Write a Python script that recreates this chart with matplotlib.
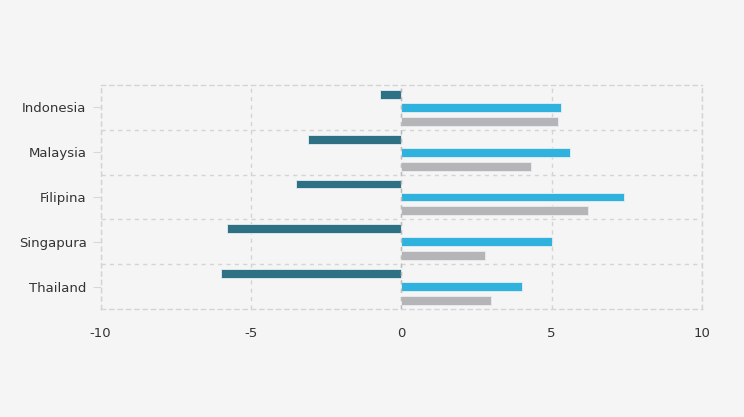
import numpy as np
import matplotlib.pyplot as plt

plt.rcParams['axes.unicode_minus'] = False

countries = ['Indonesia', 'Malaysia', 'Filipina', 'Singapura', 'Thailand']
series_a = [-0.7, -3.1, -3.5, -5.8, -6.0]   # teal
series_b = [5.3, 5.6, 7.4, 5.0, 4.0]        # blue
series_c = [5.2, 4.3, 6.2, 2.8, 3.0]        # gray

colors = ['#2e7185', '#30b2df', '#b5b5b7']
bg = '#f5f5f5'
grid_col = '#d4d4d4'

fig = plt.figure(figsize=(7.44, 4.17), dpi=100, facecolor=bg)
ax = fig.add_axes([100.5 / 744, 1 - 309 / 417, 601.5 / 744, 224 / 417])
ax.set_facecolor(bg)

y = np.arange(len(countries))
h = 0.2
offsets = [-0.29, 0.0, 0.31]
for vals, off, c in zip([series_a, series_b, series_c], offsets, colors):
    ax.barh(y + off, vals, height=h, color=c, edgecolor='#e6eef2', linewidth=0.6, zorder=3)

ax.set_xlim(-10, 10)
ax.set_ylim(len(countries) - 0.5, -0.5)
ax.set_xticks([-10, -5, 0, 5, 10])
ax.set_yticks(y)
ax.set_yticklabels(countries)
ax.set_yticks(np.arange(0.5, len(countries) - 0.5, 1), minor=True)

ax.grid(True, axis='x', which='major', linestyle=(0, (3, 3)), color=grid_col, linewidth=1, zorder=0)
ax.grid(True, axis='y', which='minor', linestyle=(0, (3, 3)), color=grid_col, linewidth=1, zorder=0)
ax.axvline(0, color='#bbbbbb', linestyle=(0, (3, 3)), linewidth=1, zorder=4)

for s in ax.spines.values():
    s.set_linestyle((0, (3, 3)))
    s.set_color(grid_col)
    s.set_linewidth(1)

ax.tick_params(axis='y', which='major', length=6, color='#d8d8d8', labelsize=9.5, labelcolor='#333333', pad=4)
ax.tick_params(axis='y', which='minor', length=0)
ax.tick_params(axis='x', length=0, labelsize=9.5, labelcolor='#333333', pad=13)

fig.savefig('out.png', dpi=100, facecolor=bg)
